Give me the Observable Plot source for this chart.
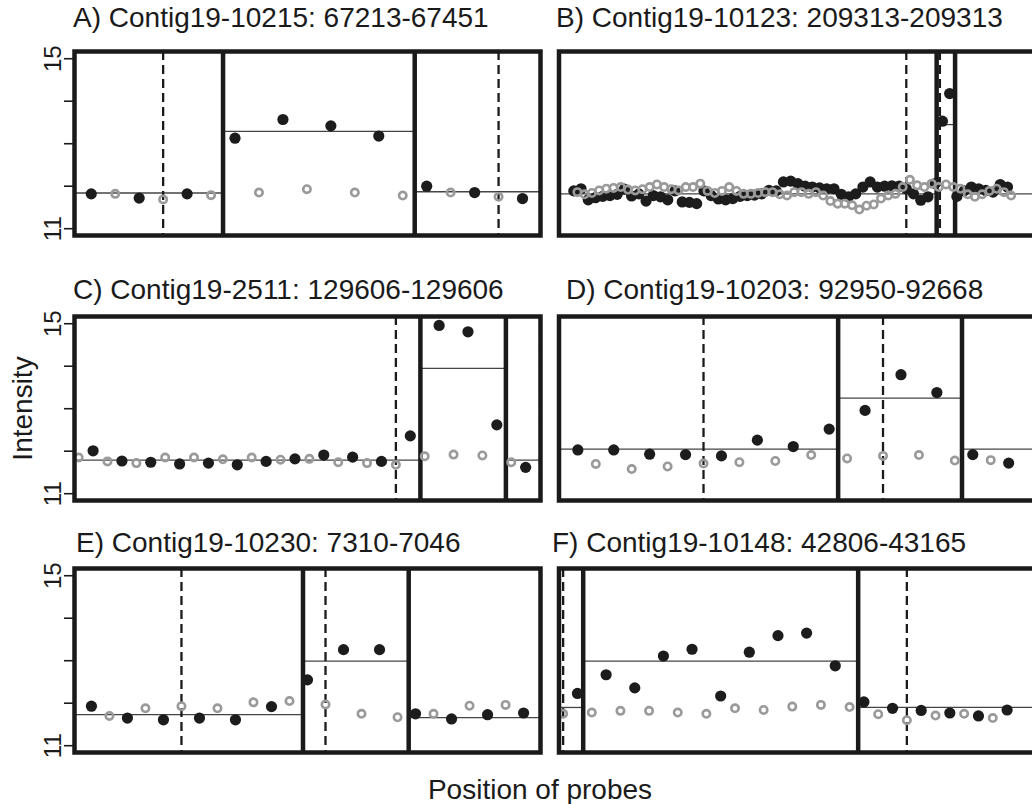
<!DOCTYPE html>
<html><head><meta charset="utf-8">
<script src="https://cdn.jsdelivr.net/npm/d3@7"></script>
<script src="https://cdn.jsdelivr.net/npm/@observablehq/plot@0.6"></script>
<style>
html,body{margin:0;padding:0;background:#fff;}
#wrap{position:relative;width:1032px;height:804px;overflow:hidden;font-family:"Liberation Sans",Arial,Helvetica,sans-serif;color:#1a1a1a;}
.panel{position:absolute;}
.panel svg{max-width:none !important;}
.t{position:absolute;font-size:28px;white-space:nowrap;line-height:1;}
</style></head><body><div id="wrap"></div>
<script>
// ---------- shared axis ----------
const yDomain = [10.84, 15.17];
const yTicks = [11, 12, 13, 14, 15];
const yLabels = [11, 15];
const xLabel = "Position of probes";
const yLabel = "Intensity";

// ---------- Panel A ----------
const aTitle = "A) Contig19-10215: 67213-67451";
const aBlack = [11.82, 11.72, 11.82, 13.13, 13.57, 13.42, 13.18, 12.00, 11.85, 11.71]; // probes 0,2,4..
const aGrey = [11.82, 11.69, 11.79, 11.85, 11.93, 11.85, 11.78, 11.85, 11.75];          // probes 1,3,5..
const aMeans = [11.84, 13.29, 11.87];
const aBreaks = [5.5, 13.5];
const aDashes = [3, 17];
const aRange = [-0.70, 18.75];

// ---------- Panel B ----------
const bTitle = "B) Contig19-10123: 209313-209313";
const bBlack = [11.89, 11.94, 11.68, 11.73, 11.76, 11.78, 11.81, 11.93, 11.77, 11.82,
  11.65, 11.78, 11.75, 11.68, 11.89, 11.63, 11.62, 11.59, 11.89, 11.78,
  11.70, 11.68, 11.71, 11.76, 11.78, 11.79, 11.82, 11.90, 11.89, 12.10,
  12.12, 12.06, 12.00, 11.98, 11.96, 11.94, 11.94, 11.81, 11.75, 11.82,
  11.98, 12.10, 11.98, 12.00, 12.01, 12.00, 11.94, 11.82, 11.67, 11.75,
  12.06, 13.53, 14.18, 11.76, 11.89, 11.98, 11.94, 11.90, 11.86, 12.04, 11.98];
const bGrey = [11.86, 11.81, 11.84, 11.90, 11.94, 11.96, 11.98, 11.92, 11.90, 11.93,
  11.98, 12.04, 11.98, 11.93, 11.90, 11.98, 11.98, 12.06, 11.89, 11.84,
  11.89, 11.98, 11.89, 11.82, 11.82, 11.84, 11.86, 11.86, 11.81, 11.78,
  11.86, 11.86, 11.82, 11.86, 11.78, 11.65, 11.59, 11.59, 11.55, 11.45,
  11.54, 11.57, 11.71, 11.78, 11.82, 11.98, 12.15, 12.02, 11.98, 12.06,
  11.98, 12.04, 11.98, 11.94, 11.81, 11.75, 11.81, 11.89, 11.94, 11.86, 11.78];
const bMeans = [11.82, 13.45, 11.82];
const bBreaks = [100.4, 105.5];
const bDashes = [92, 101.3];
const bRange = [-4.09, 131.9];

// ---------- Panel C ----------
const cTitle = "C) Contig19-2511: 129606-129606";
const cBlack = [12.01, 11.77, 11.74, 11.70, 11.72, 11.68, 11.76, 11.82, 11.91, 11.86, 11.76, 12.36, 14.96, 14.81, 12.62, 11.62]; // probes 1,3,..
const cGrey = [11.85, 11.76, 11.72, 11.85, 11.85, 11.81, 11.85, 11.80, 11.82, 11.74, 11.72, 11.68, 11.88, 11.92, 11.90, 11.74];  // probes 0,2,..
const cMeans = [11.79, 13.95, 11.79];
const cBreaks = [23.7, 29.63];
const cDashes = [22, 32];
const cRange = [-0.29, 32.03];

// ---------- Panel D ----------
const dTitle = "D) Contig19-10203: 92950-92668";
const dBlack = [12.03, 12.03, 11.93, 11.92, 11.89, 12.26, 12.11, 12.52, 12.96, 13.80, 13.38, 11.92, 11.72]; // probes 0,2,..
const dGrey = [11.70, 11.58, 11.64, 11.71, 11.74, 11.77, 11.91, 11.83, 11.89, 11.91, 11.78, 11.79];        // probes 1,3,..
const dMeans = [12.05, 13.25, 12.05];
const dBreaks = [14.5, 21.4];
const dDashes = [7, 17];
const dRange = [-1.05, 26.33];

// ---------- Panel E ----------
const eTitle = "E) Contig19-10230: 7310-7046";
const eBlack = [11.93, 11.65, 11.61, 11.65, 11.61, 11.92, 12.55, 13.26, 13.26, 11.75, 11.63, 11.73, 11.77]; // probes 0,2,..
const eGrey = [11.70, 11.88, 11.93, 11.88, 12.02, 12.05, 11.97, 11.75, 11.67, 11.75, 11.94, 11.96];        // probes 1,3,..
const eMeans = [11.73, 12.99, 11.66];
const eBreaks = [11.75, 17.62];
const eDashes = [5, 13];
const eRange = [-0.94, 24.94];

// ---------- Panel F ----------
const fTitle = "F) Contig19-10148: 42806-43165";
const fBlack = [12.23, 12.67, 12.36, 13.11, 13.27, 12.17, 13.20, 13.59, 13.65, 12.88, 12.03, 11.88, 11.83, 11.77, 11.70, 11.84]; // probes 1,3,..
const fGrey = [11.75, 11.78, 11.82, 11.82, 11.78, 11.75, 11.88, 11.84, 11.92, 11.96, 11.91, 11.74, 11.60, 11.71, 11.75, 11.65];  // probes 0,2,..
const fMeans = [11.90, 12.99, 11.90];
const fBreaks = [1.4, 20.6];
const fDashes = [0, 24];
const fRange = [-0.29, 34.03];

const panels = [
  {title: aTitle, black: aBlack, grey: aGrey, bs: 0, gs: 1, means: aMeans, breaks: aBreaks, dashes: aDashes, range: aRange, col: 0, row: 0, tx: 73},
  {title: bTitle, black: bBlack, grey: bGrey, bs: 0, gs: 1, means: bMeans, breaks: bBreaks, dashes: bDashes, range: bRange, col: 1, row: 0, tx: 556},
  {title: cTitle, black: cBlack, grey: cGrey, bs: 1, gs: 0, means: cMeans, breaks: cBreaks, dashes: cDashes, range: cRange, col: 0, row: 1, tx: 73, ylab: true},
  {title: dTitle, black: dBlack, grey: dGrey, bs: 0, gs: 1, means: dMeans, breaks: dBreaks, dashes: dDashes, range: dRange, col: 1, row: 1, tx: 566},
  {title: eTitle, black: eBlack, grey: eGrey, bs: 0, gs: 1, means: eMeans, breaks: eBreaks, dashes: eDashes, range: eRange, col: 0, row: 2, tx: 76},
  {title: fTitle, black: fBlack, grey: fGrey, bs: 1, gs: 0, means: fMeans, breaks: fBreaks, dashes: fDashes, range: fRange, col: 1, row: 2, tx: 552}
];

// layout
const frameTops = [51, 316, 568];
const titleBaselines = [28, 300, 553];
const frameH = 184;
const pad = 10;
const cols = [
  {left: 0, width: 545, ml: 74, mr: 5},
  {left: 540, width: 520, ml: 18.5, mr: 10}
];

const wrap = document.getElementById("wrap");
const ink = "#1a1a1a";

for (const p of panels) {
  const c = cols[p.col];
  const blackPts = p.black.map((v, i) => ({probe: p.bs + 2 * i, value: v}));
  const greyPts = p.grey.map((v, i) => ({probe: p.gs + 2 * i, value: v}));
  const bounds = [p.range[0], ...p.breaks, p.range[1]];
  const segs = p.means.map((m, i) => ({x1: bounds[i], x2: bounds[i + 1], y: m}));
  const marks = [
    Plot.ruleY(segs, {x1: "x1", x2: "x2", y: "y", stroke: "#444", strokeWidth: 1.3}),
    Plot.ruleX(p.dashes, {stroke: ink, strokeWidth: 2.3, strokeDasharray: "9,5", clip: true}),
    Plot.ruleX(p.breaks, {stroke: ink, strokeWidth: 4.5}),
    Plot.dot(blackPts, {x: "probe", y: "value", r: 5.6, fill: "#1c1c1c", stroke: "none", clip: true}),
    Plot.dot(greyPts, {x: "probe", y: "value", r: 3.7, fill: "none", stroke: "#9a9a9a", strokeWidth: 2.6, clip: true}),
    Plot.frame({stroke: ink, strokeWidth: 4.5})
  ];
  if (p.col === 0) {
    marks.push(Plot.axisY(yTicks, {tickSize: 10, tickFormat: () => "", stroke: ink, strokeWidth: 1.6}));
    marks.push(Plot.text(yLabels, {y: d => d, text: d => String(d), frameAnchor: "left", dx: -14, rotate: -90,
      lineAnchor: "bottom", textAnchor: "middle", fontSize: 24, fill: ink}));
  }
  if (p.ylab) {
    marks.push(Plot.text([yLabel], {text: d => d, frameAnchor: "left", dx: -43, rotate: -90,
      lineAnchor: "bottom", textAnchor: "middle", fontSize: 28, fill: ink}));
  }
  const svg = Plot.plot({
    width: c.width,
    height: frameH + 2 * pad,
    marginLeft: c.ml, marginRight: c.mr, marginTop: pad, marginBottom: pad,
    style: {fontFamily: '"Liberation Sans", Arial, Helvetica, sans-serif', background: "transparent", overflow: "visible"},
    x: {domain: p.range, axis: null},
    y: p.col === 0 ? {domain: yDomain} : {domain: yDomain, axis: null},
    marks
  });
  svg.style.maxWidth = "none";
  svg.style.width = c.width + "px";
  svg.style.height = (frameH + 2 * pad) + "px";
  const div = document.createElement("div");
  div.className = "panel";
  div.style.left = c.left + "px";
  div.style.top = (frameTops[p.row] - pad) + "px";
  div.style.width = c.width + "px";
  div.appendChild(svg);
  wrap.appendChild(div);

  const t = document.createElement("div");
  t.className = "t";
  t.textContent = p.title;
  t.style.left = p.tx + "px";
  t.style.top = (titleBaselines[p.row] - 24) + "px";
  wrap.appendChild(t);
}

const xl = document.createElement("div");
xl.className = "t";
xl.textContent = xLabel;
xl.style.left = "540px";
xl.style.transform = "translateX(-50%)";
xl.style.top = (800 - 24) + "px";
wrap.appendChild(xl);
</script></body></html>
